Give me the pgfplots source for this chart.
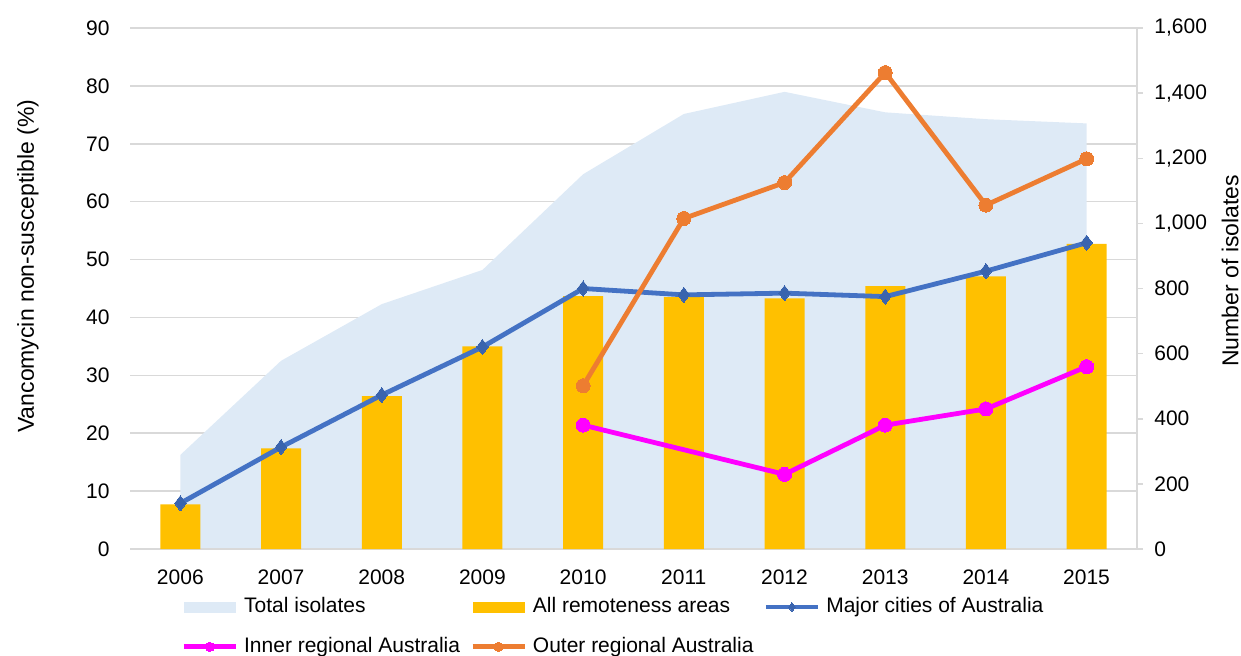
\documentclass[border=0pt]{standalone}
\usepackage{fontspec}
\setmainfont{Liberation Sans}
\usepackage{pgfplots}
\pgfplotsset{compat=1.18}
\definecolor{areaBlue}{HTML}{DEEAF6}
\definecolor{barGold}{HTML}{FFC000}
\definecolor{lineBlue}{HTML}{4472C4}
\definecolor{markBlue}{HTML}{3A64AE}
\definecolor{lineOrange}{HTML}{ED7D31}
\definecolor{lineMag}{HTML}{FF00FF}
\definecolor{gridGray}{HTML}{D9D9D9}
\begin{document}
\fontsize{10.5}{12.6}\selectfont
\begin{tikzpicture}
\pgfplotsset{
  base/.style={scale only axis, width=503.5pt, height=260.5pt, at={(0pt,0pt)}, anchor=south west,
    xmin=2005.5, xmax=2015.5, /pgf/number format/assume math mode=true, clip=false},
  patchleg/.style={legend image code/.code={\fill[##1, draw=none] (0pt,-2.75pt) rectangle (26pt,2.75pt);}},
  lineleg/.style={legend image code/.code={\draw[mark repeat=2,mark phase=2,##1, mark size=2.3pt] plot coordinates {(0pt,0pt) (13pt,0pt) (26pt,0pt)};}},
}
% background: grid, left ticks, x ticks
\begin{axis}[base, ymin=0, ymax=90, ytick={0,10,...,90}, xtick={2006,...,2015},
  /pgf/number format/1000 sep={},
  axis x line*=bottom, axis y line*=left, axis line style={draw=none}, tick style={draw=none},
  ymajorgrids, grid style={gridGray, line width=0.75pt},
  yticklabel style={anchor=east, inner sep=0pt, xshift=-10pt},
  xticklabel style={anchor=north, inner sep=0pt, yshift=-10pt},
  ylabel={Vancomycin non-susceptible (\%)},
  ylabel style={at={(axis description cs:-0.1013,0.543)}, anchor=center, font=\fontsize{11.5}{13}\selectfont},
]
\addplot[draw=none] coordinates {(2006,0)};
\end{axis}
% right axis: total isolates area
\begin{axis}[base, ymin=0, ymax=1600, ytick={0,200,...,1600},
  /pgf/number format/1000 sep={,},
  axis x line*=bottom, axis y line*=right, xtick=\empty,
  axis line style={draw=gridGray, line width=0.75pt},
  ytick style={draw=gridGray, line width=0.75pt}, tick align=outside, major tick length=3pt,
  yticklabel style={anchor=west, inner sep=0pt, xshift=5.5pt},
  ylabel={Number of isolates},
  ylabel style={at={(axis description cs:1.0924,0.534)}, anchor=center, font=\fontsize{11.5}{13}\selectfont},
  axis on top,
]
\addplot[fill=areaBlue, draw=none] coordinates {
  (2006,289) (2007,578) (2008,752) (2009,857) (2010,1151)
  (2011,1336) (2012,1404) (2013,1341) (2014,1320) (2015,1307)} \closedcycle;
\end{axis}
% front: bars and lines
\begin{axis}[base, ymin=0, ymax=90, hide axis,
  legend columns=3, legend cell align=left,
  legend style={at={(0.0506,-0.092)}, anchor=north west, draw=none, fill=none, inner sep=0pt,
    nodes={inner sep=0pt, text height=7.6pt, text depth=2.1pt},
    row sep=10.2pt,
    /tikz/every odd column/.append style={column sep=3pt},
    /tikz/every even column/.append style={column sep=5pt}},
]
\addlegendimage{patchleg, fill=areaBlue, draw=none}
\addlegendentry{Total isolates}
\addplot[ybar, bar width=20pt, fill=barGold, draw=none, patchleg] coordinates {
  (2006,7.7) (2007,17.4) (2008,26.4) (2009,35.0) (2010,43.7)
  (2011,43.5) (2012,43.3) (2013,45.4) (2014,47.1) (2015,52.7)};
\addlegendentry{All remoteness areas}
\addplot[lineBlue, line width=2.4pt, mark=diamond*, mark size=3.8pt,
  mark options={fill=markBlue, draw=markBlue, line width=0pt}, lineleg] coordinates {
  (2006,7.9) (2007,17.6) (2008,26.6) (2009,34.9) (2010,45.0)
  (2011,43.9) (2012,44.2) (2013,43.6) (2014,48.0) (2015,52.9)};
\addlegendentry{Major cities of Australia}
\addplot[lineMag, line width=2.4pt, mark=*, mark size=3.5pt,
  mark options={fill=lineMag, draw=lineMag, line width=0pt}, lineleg] coordinates {
  (2010,21.4) (2012,12.9) (2013,21.4) (2014,24.2) (2015,31.5)};
\addlegendentry{Inner regional Australia}
\addplot[lineOrange, line width=2.4pt, mark=*, mark size=3.5pt,
  mark options={fill=lineOrange, draw=lineOrange, line width=0pt}, lineleg] coordinates {
  (2010,28.2) (2011,57.1) (2012,63.3) (2013,82.3) (2014,59.4) (2015,67.4)};
\addlegendentry{Outer regional Australia}
\end{axis}
\pgfresetboundingbox
\path[use as bounding box] (-65pt,-53pt) rectangle (555.5pt,274.5pt);
\end{tikzpicture}
\end{document}
